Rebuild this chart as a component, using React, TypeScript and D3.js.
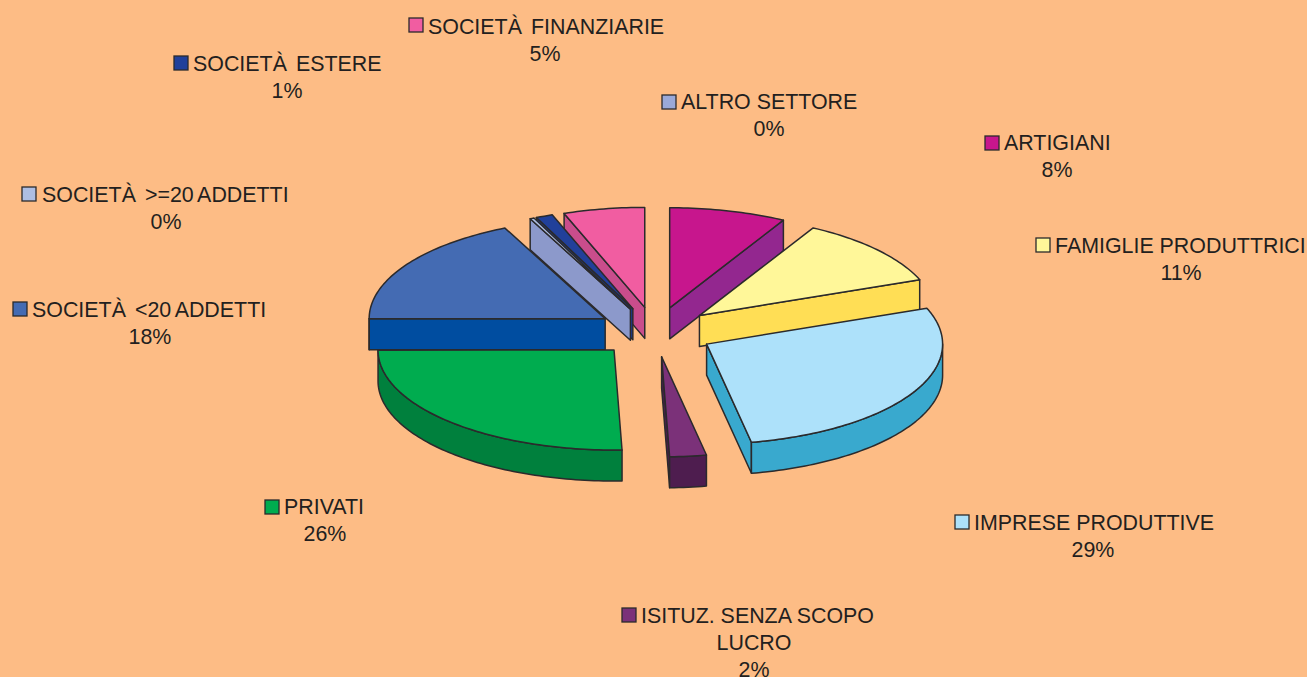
import React from "react";
import * as d3 from "d3";

const W = 1307, H = 677;
const categories = ["ARTIGIANI","FAMIGLIE PRODUTTRICI","IMPRESE PRODUTTIVE","ISITUZ. SENZA SCOPO LUCRO","PRIVATI","SOCIETÀ  <20 ADDETTI","SOCIETÀ  >=20 ADDETTI","SOCIETÀ  ESTERE","SOCIETÀ  FINANZIARIE","ALTRO SETTORE"];
const sliceValues = [8, 11.15, 27.8, 2.5, 25.5, 18.05, 0.28, 1.15, 5.55, 0];
const percentLabels = ["8%","11%","29%","2%","26%","18%","0%","1%","5%","0%"];
const topColors = ["#C7168D","#FFF799","#ADE1FA","#7B3179","#00AC4F","#446BB3","#AEBEE3","#21409A","#F15DA1","#9AA9D8"];
const sideColors = ["#93278F","#FFDE55","#39A9CE","#4E1D4F","#00803D","#004DA0","#8C99CB","#1B3A8C","#C94D8C","#8C99CB"];

const labelLayout = [
  { kx: 985, ky: 136, tx: 1004, ty: 149, cx: 1057, py: 176 },
  { kx: 1036, ky: 238, tx: 1055, ty: 252, cx: 1181, py: 279 },
  { kx: 955, ky: 515, tx: 974, ty: 529, cx: 1093, py: 556 },
  { kx: 622, ky: 608, tx: 641, ty: 622, cx: 754, py: 676 },
  { kx: 265, ky: 500, tx: 284, ty: 513, cx: 325, py: 540 },
  { kx: 13, ky: 302, tx: 32, ty: 316, cx: 150, py: 343 },
  { kx: 22, ky: 187, tx: 42, ty: 201, cx: 166, py: 228 },
  { kx: 174, ky: 56, tx: 193, ty: 70, cx: 287, py: 97 },
  { kx: 409, ky: 18, tx: 428, ty: 33, cx: 545, py: 60 },
  { kx: 662, ky: 95, tx: 681, ty: 108, cx: 769, py: 135 },
];

const CX = 655, CY = 332, RX = 236, RY = 100, DEPTH = 31, EXPLODE = 0.25;
const INK = "#2B2A2C", TEXT = "#231F20", BG = "#FDBC85";
const FONT = "'Liberation Sans', Arial, sans-serif";

const sx = d3.scaleLinear().domain([-1, 1]).range([CX - RX, CX + RX]);
const sy = d3.scaleLinear().domain([-1, 1]).range([CY - RY, CY + RY]);
type P = [number, number];
const pt = (a: number, r: number, ox: number, oy: number, dz = 0): P => [
  sx(ox + r * Math.sin(a)),
  sy(oy - r * Math.cos(a)) + dz,
];
const line = d3.line<P>();
const arcPts = (a0: number, a1: number, ox: number, oy: number, dz = 0): P[] => {
  const n = Math.max(2, Math.ceil(Math.abs(a1 - a0) / 0.02));
  return d3.range(n + 1).map((i) => pt(a0 + ((a1 - a0) * i) / n, 1, ox, oy, dz));
};

const pieData = d3.pie<number>().sort(null).value((d) => d)(sliceValues);

function Slice({ d }: { d: d3.PieArcDatum<number> }) {
  const i = d.index;
  const a0 = d.startAngle, a1 = d.endAngle, mid = (a0 + a1) / 2;
  const ox = EXPLODE * Math.sin(mid), oy = -EXPLODE * Math.cos(mid);
  const apex = pt(0, 0, ox, oy);
  const apexB: P = [apex[0], apex[1] + DEPTH];
  const stroke = { stroke: INK, strokeWidth: 1.5, strokeLinejoin: "round" as const };
  const wall = (a: number) => {
    const rim = pt(a, 1, ox, oy);
    return line([apex, rim, [rim[0], rim[1] + DEPTH], apexB])! + "Z";
  };
  const rimFrom = Math.max(a0, Math.PI / 2);
  const rimTo = Math.min(a1, (3 * Math.PI) / 2);
  return (
    <g>
      {Math.sin(a0) < 0 && <path d={wall(a0)} fill={sideColors[i]} {...stroke} />}
      {Math.sin(a1) > 0 && <path d={wall(a1)} fill={sideColors[i]} {...stroke} />}
      {rimTo > rimFrom && (
        <path
          d={line([...arcPts(rimFrom, rimTo, ox, oy), ...arcPts(rimTo, rimFrom, ox, oy, DEPTH)])! + "Z"}
          fill={sideColors[i]}
          {...stroke}
        />
      )}
      <path d={line([apex, ...arcPts(a0, a1, ox, oy)])! + "Z"} fill={topColors[i]} {...stroke} />
    </g>
  );
}

function Label({ i }: { i: number }) {
  const l = labelLayout[i];
  const name = categories[i];
  const wrapped = name.startsWith("ISITUZ");
  const common = { fontFamily: FONT, fontSize: 21.4, fill: TEXT, style: { whiteSpace: "pre" as const } };
  const spacing = name.startsWith("SOCIET") ? -1.4 : 0;
  return (
    <g>
      <rect x={l.kx} y={l.ky} width={14} height={14} fill={topColors[i]} stroke={INK} strokeWidth={1.3} />
      <text x={l.tx} y={l.ty + 0.5} wordSpacing={spacing} {...common}>{wrapped ? "ISITUZ. SENZA SCOPO" : name}</text>
      {wrapped && <text x={l.cx} y={l.ty + 27.5} textAnchor="middle" {...common}>LUCRO</text>}
      <text x={l.cx} y={l.py + 0.5} textAnchor="middle" {...common}>{percentLabels[i]}</text>
    </g>
  );
}

export default function App() {
  const order = pieData
    .filter((d) => d.value > 0)
    .slice()
    .sort((a, b) => Math.cos((b.startAngle + b.endAngle) / 2) - Math.cos((a.startAngle + a.endAngle) / 2));
  return (
    <svg width={W} height={H} viewBox={`0 0 ${W} ${H}`} style={{ position: "fixed", left: 0, top: 0, display: "block" }}>
      <rect width={W} height={H} fill={BG} />
      {order.map((d) => <Slice key={d.index} d={d} />)}
      {categories.map((_, i) => <Label key={i} i={i} />)}
    </svg>
  );
}
